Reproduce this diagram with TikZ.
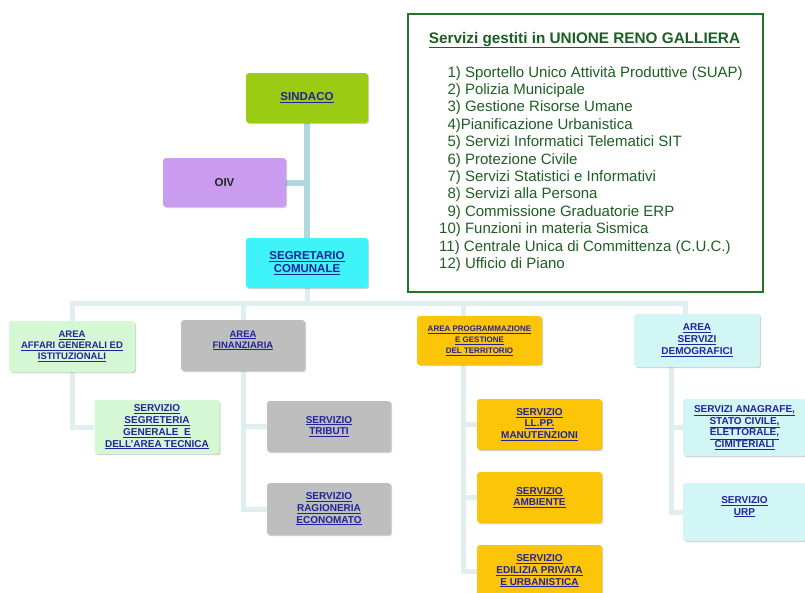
\documentclass[tikz,border=0pt]{standalone}
\usepackage{fontspec}
\setmainfont{Liberation Sans}
\usetikzlibrary{positioning,shadows,backgrounds}
\definecolor{linkblue}{HTML}{23239B}
\definecolor{lime}{HTML}{9CCB14}
\definecolor{lilla}{HTML}{C99CF0}
\definecolor{ciano}{HTML}{3EF4F8}
\definecolor{menta}{HTML}{D4F8D4}
\definecolor{grigio}{HTML}{BEBEBE}
\definecolor{giallo}{HTML}{FCC508}
\definecolor{celeste}{HTML}{D2F6F6}
\definecolor{wiretop}{HTML}{B0D8DF}
\definecolor{wirepale}{HTML}{E1EEF0}
\definecolor{framegreen}{HTML}{21742A}
\definecolor{listgreen}{HTML}{1D5E22}
\tikzset{
  basic/.style    = {rectangle, rounded corners=3pt, align=center, inner sep=2pt,
                     text=linkblue, drop shadow={shadow xshift=1.2pt,
                     shadow yshift=-1.2pt, opacity=.18, fill=black}},
  topbox/.style   = {basic, minimum width=122pt, minimum height=50pt,
                     font=\fontsize{11.5}{13.5}\selectfont\bfseries},
  areabox/.style  = {basic, minimum width=125pt, minimum height=51pt,
                     font=\fontsize{9.5}{11}\selectfont\bfseries},
  servbox/.style  = {basic, minimum width=125pt, minimum height=52pt,
                     font=\fontsize{10}{11.7}\selectfont\bfseries},
  wire/.style     = {draw=wirepale, line width=5pt},
  listline/.style = {anchor=base west, inner sep=0pt, text=listgreen,
                     font=\fontsize{15}{17}\selectfont}
}
\newcommand{\lnk}[1]{\underline{#1}}

\begin{document}
\begin{tikzpicture}[x=1pt, y=-1pt]
\useasboundingbox (0,0) rectangle (805,592);
\clip (0,0) rectangle (805,592);

% vertice
\node[topbox, fill=lime] (sindaco) at (307,98) {\lnk{SINDACO}};
\node[topbox, fill=lilla, text=black!85, minimum width=123pt, minimum height=49pt]
  (oiv) at (224.5,182.5) {OIV};
\node[topbox, fill=ciano] (segr) at (307,263) {\lnk{SEGRETARIO}\\\lnk{COMUNALE}};

% le quattro aree
\node[areabox, fill=menta, minimum width=126pt] (affari) at (72,346.5)
  {\lnk{AREA}\\\lnk{AFFARI GENERALI ED}\\\lnk{ISTITUZIONALI}};
\node[areabox, fill=grigio, minimum width=124pt] (finanz) at (243,345.5)
  {\lnk{AREA}\\\lnk{FINANZIARIA}\\[1pt]};
\node[areabox, fill=giallo, minimum height=49pt, font=\fontsize{8}{11}\selectfont\bfseries]
  (prog) at (479.5,340.5)
  {\lnk{AREA PROGRAMMAZIONE}\\\lnk{E GESTIONE}\\\lnk{DEL TERRITORIO}};
\node[areabox, fill=celeste, minimum width=126pt, minimum height=53pt,
  font=\fontsize{10}{12}\selectfont\bfseries] (demo) at (697,340.5)
  {\lnk{AREA}\\\lnk{SERVIZI}\\\lnk{DEMOGRAFICI}};

% i servizi
\node[servbox, fill=menta, minimum height=54pt] (segreteria) at (157,427)
  {\lnk{SERVIZIO}\\\lnk{SEGRETERIA}\\\lnk{GENERALE\ \ E}\\\lnk{DELL'AREA TECNICA}};
\node[servbox, fill=grigio, minimum width=124pt, minimum height=51pt] (tributi) at (329,426.5)
  {\lnk{SERVIZIO}\\\lnk{TRIBUTI}};
\node[servbox, fill=grigio, minimum width=124pt] (ragioneria) at (329,509)
  {\lnk{SERVIZIO}\\\lnk{RAGIONERIA}\\\lnk{ECONOMATO}};
\node[servbox, fill=giallo, minimum height=51pt] (llpp) at (539.5,424.5)
  {\lnk{SERVIZIO}\\\lnk{LL.PP.}\\\lnk{MANUTENZIONI}};
\node[servbox, fill=giallo, minimum height=51pt] (ambiente) at (539.5,497.5)
  {\lnk{SERVIZIO}\\\lnk{AMBIENTE}};
\node[servbox, fill=giallo] (edilizia) at (539.5,571)
  {\lnk{SERVIZIO}\\\lnk{EDILIZIA PRIVATA}\\\lnk{E URBANISTICA}};
\node[servbox, fill=celeste, minimum width=123pt, minimum height=57pt] (anagrafe) at (744.5,427.5)
  {\lnk{SERVIZI ANAGRAFE,}\\\lnk{STATO CIVILE,}\\\lnk{ELETTORALE,}\\\lnk{CIMITERIALI}};
\node[servbox, fill=celeste, minimum width=123pt, minimum height=58pt] (urp) at (744.5,512)
  {\lnk{SERVIZIO}\\\lnk{URP}\\[1pt]};

% riquadro servizi in unione
\node[draw=framegreen, line width=2.5pt, minimum width=355pt, minimum height=278pt]
  (unione) at (585.5,153) {};
\node[anchor=base, inner sep=0pt, text=listgreen,
  font=\fontsize{15.3}{18}\selectfont\bfseries] (titolo) at (584.5,43)
  {\lnk{Servizi gestiti in UNIONE RENO GALLIERA}};
\foreach \t [count=\k] in {
  {\phantom{1}1) Sportello Unico Attività Produttive (SUAP)},
  {\phantom{1}2) Polizia Municipale},
  {\phantom{1}3) Gestione Risorse Umane},
  {\phantom{1}4)Pianificazione Urbanistica},
  {\phantom{1}5) Servizi Informatici Telematici SIT},
  {\phantom{1}6) Protezione Civile},
  {\phantom{1}7) Servizi Statistici e Informativi},
  {\phantom{1}8) Servizi alla Persona},
  {\phantom{1}9) Commissione Graduatorie ERP},
  {10) Funzioni in materia Sismica},
  {11) Centrale Unica di Committenza (C.U.C.)},
  {12) Ufficio di Piano}}
  \node[listline] (s\k) at (439,59.6+17.4*\k) {\t};

% collegamenti
\coordinate (bus) at (307,303);
\coordinate (ptop) at ([xshift=-16.5pt]prog.north);
\coordinate (dtop) at ([xshift=-12pt]demo.north);
\coordinate (dbot) at ([xshift=-26pt]demo.south);
\begin{scope}[on background layer]
\draw[wire, draw=wiretop, line width=6pt] (sindaco) -- (segr);
\draw[wire, draw=wiretop, line width=6pt] (oiv.east) -- (oiv.east -| sindaco.south);
\draw[wire] (segr.south) -- (bus);
\draw[wire] (affari.north) |- (bus) -| (dtop);
\draw[wire] (finanz.north) -- (finanz.north |- bus);
\draw[wire] (ptop) -- (ptop |- bus);

\draw[wire] (affari.south) |- (segreteria.west);
\foreach \c in {tributi,ragioneria}
  \draw[wire] (finanz.south) |- (\c.west);
\foreach \c in {llpp,ambiente,edilizia}
  \draw[wire] (ptop) |- (\c.west);
\foreach \c in {anagrafe,urp}
  \draw[wire] (dbot) |- (\c.west);
\end{scope}
\end{tikzpicture}
\end{document}
